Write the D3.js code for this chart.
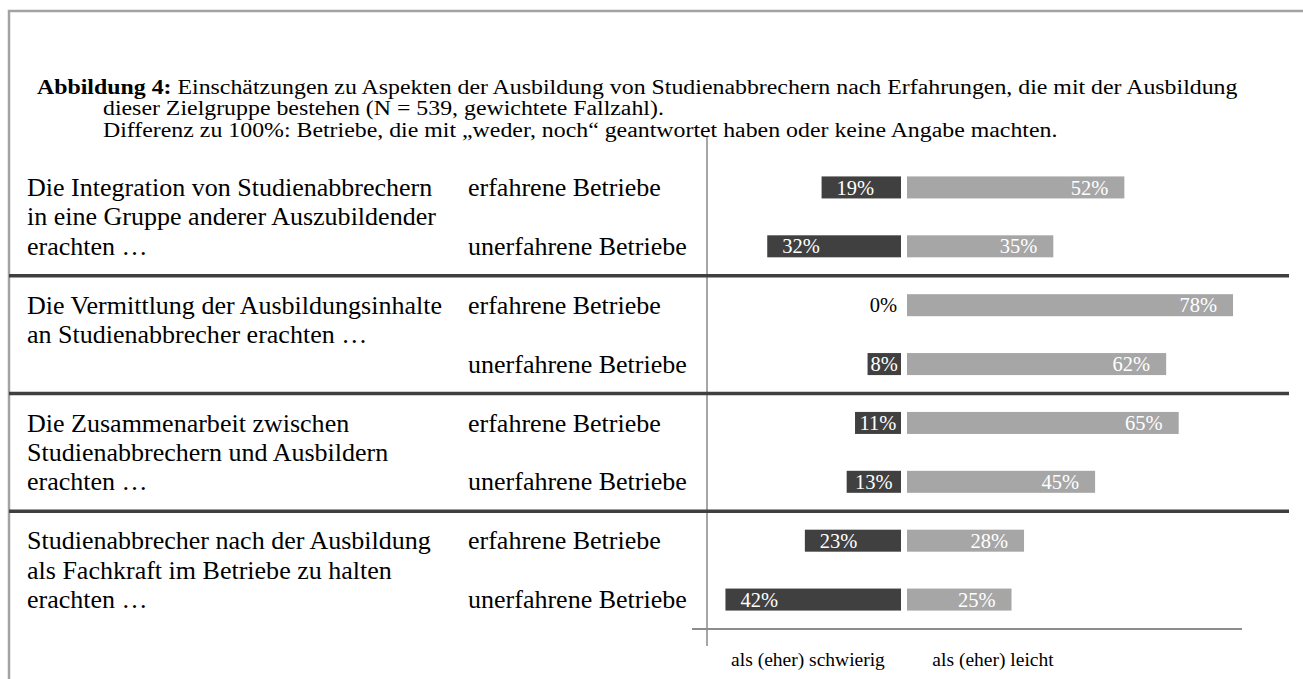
<!DOCTYPE html>
<html>
<head>
<meta charset="utf-8">
<script src="https://cdn.jsdelivr.net/npm/d3@7"></script>
<style>
  html, body { margin: 0; padding: 0; background: #fff; }
  svg { display: block; font-family: "Liberation Serif", serif; }
  text, tspan { font-family: "Liberation Serif", serif; }
</style>
</head>
<body>
<svg id="chart" width="1303" height="679"></svg>
<script>
// ---- data ----
const categories = [
  ["Die Integration von Studienabbrechern", "in eine Gruppe anderer Auszubildender", "erachten …"],
  ["Die Vermittlung der Ausbildungsinhalte", "an Studienabbrecher erachten …"],
  ["Die Zusammenarbeit zwischen", "Studienabbrechern und Ausbildern", "erachten …"],
  ["Studienabbrecher nach der Ausbildung", "als Fachkraft im Betriebe zu halten", "erachten …"]
];
const groups = ["erfahrene Betriebe", "unerfahrene Betriebe"];
const schwierig = [19, 32, 0, 8, 11, 13, 23, 42];
const leicht = [52, 35, 78, 62, 65, 45, 28, 25];
const legendLabels = ["als (eher) schwierig", "als (eher) leicht"];
const titleBold = "Abbildung 4:";
const titleLines = [
  " Einschätzungen zu Aspekten der Ausbildung von Studienabbrechern nach Erfahrungen, die mit der Ausbildung",
  "dieser Zielgruppe bestehen (N = 539, gewichtete Fallzahl).",
  "Differenz zu 100%: Betriebe, die mit „weder, noch“ geantwortet haben oder keine Angabe machten."
];

// ---- layout ----
const FONT = "Liberation Serif, serif";
const svg = d3.select("#chart");
const DARK = "#404040", LIGHT = "#a6a6a6";
const centerL = 901, centerR = 907;
const rows = d3.range(schwierig.length);

const y = d3.scaleBand().domain(rows).range([158, 629]).paddingInner(0.626).paddingOuter(0.313);
const w = d3.scaleLinear().domain([0, 100]).range([0, 418]);

function txt(parent) {
  return parent.append("text").attr("font-family", FONT).attr("fill", "#000");
}

// frame
svg.append("rect").attr("x", 9).attr("y", 11).attr("width", 1310).attr("height", 700)
  .attr("fill", "none").attr("stroke", "#a3a3a3").attr("stroke-width", 2.5);

// title (scaled horizontally to the reference width)
const tFont = 20;
const tg = svg.append("g");
const t1 = txt(tg).attr("x", 0).attr("y", 0).attr("font-size", tFont);
t1.append("tspan").attr("font-weight", "bold").attr("font-family", FONT).text(titleBold);
t1.append("tspan").attr("font-family", FONT).text(titleLines[0]);
const t2 = txt(tg).attr("x", 0).attr("y", 21.5).attr("font-size", tFont).text(titleLines[1]);
const t3 = txt(tg).attr("x", 0).attr("y", 43).attr("font-size", tFont).text(titleLines[2]);
(function(){
  const sx = (1238 - 37) / t1.node().getComputedTextLength();
  const indent = (103 - 37) / sx;
  t2.attr("x", indent); t3.attr("x", indent);
  tg.attr("transform", `translate(37,94) scale(${sx},1)`);
})();

// vertical axis
svg.append("line").attr("x1", 707).attr("x2", 707).attr("y1", 137).attr("y2", 646)
  .attr("stroke", "#a6a6a6").attr("stroke-width", 2);

// bottom axis line
svg.append("line").attr("x1", 692).attr("x2", 1242).attr("y1", y.range()[1]).attr("y2", y.range()[1])
  .attr("stroke", "#8c8c8c").attr("stroke-width", 2);

// separators
[2, 4, 6].forEach(k => {
  const yy = y.range()[0] + k * y.step();
  svg.append("line").attr("x1", 9).attr("x2", 1289).attr("y1", yy).attr("y2", yy)
    .attr("stroke", "#3f3f3f").attr("stroke-width", 3.5);
});

// category labels
const catFont = 24.5;
const lineStep = y.step() / 2;
categories.forEach((lines, i) => {
  const y0 = y(i * 2) + y.bandwidth() / 2;
  lines.forEach((ln, j) => {
    txt(svg).attr("class", "cat").attr("x", 27).attr("y", y0 + j * lineStep)
      .attr("dy", "0.33em").attr("font-size", catFont).text(ln);
  });
});
// group labels
rows.forEach(r => {
  txt(svg).attr("class", "grp").attr("x", 468).attr("y", y(r) + y.bandwidth() / 2)
    .attr("dy", "0.33em").attr("font-size", catFont).text(groups[r % 2]);
});
(function(){
  const n = svg.select("text.grp").node();
  const fs = catFont * 193 / n.getComputedTextLength();
  svg.selectAll("text.cat, text.grp").attr("font-size", fs);
})();

// bars
const valFont = 20.5;
const gS = svg.append("g");
rows.forEach(r => {
  const v = schwierig[r];
  const bw = w(v);
  const cy = y(r) + y.bandwidth() / 2;
  if (v > 0) {
    gS.append("rect").attr("x", centerL - bw).attr("y", y(r)).attr("width", bw).attr("height", y.bandwidth()).attr("fill", DARK);
    const t = txt(gS).attr("y", cy).attr("dy", "0.35em").attr("font-size", valFont).attr("fill", "#fff").text(v + "%");
    const tw = t.node().getComputedTextLength();
    const pad = Math.min(15, Math.max(0, (bw - tw) / 2));
    t.attr("x", centerL - bw + pad);
  } else {
    txt(gS).attr("x", centerL - 4).attr("y", cy).attr("dy", "0.35em").attr("text-anchor", "end")
      .attr("font-size", valFont).text(v + "%");
  }
});
const gL = svg.append("g");
rows.forEach(r => {
  const v = leicht[r];
  const bw = w(v);
  const cy = y(r) + y.bandwidth() / 2;
  gL.append("rect").attr("x", centerR).attr("y", y(r)).attr("width", bw).attr("height", y.bandwidth()).attr("fill", LIGHT);
  txt(gL).attr("x", centerR + bw - 16).attr("y", cy).attr("dy", "0.35em").attr("text-anchor", "end")
    .attr("font-size", valFont).attr("fill", "#fff").text(v + "%");
});

// labels under the bars
const legFont = 19.5;
txt(svg).attr("x", 808).attr("y", 660).attr("dy", "0.33em").attr("text-anchor", "middle")
  .attr("font-size", legFont).text(legendLabels[0]);
txt(svg).attr("x", 993).attr("y", 660).attr("dy", "0.33em").attr("text-anchor", "middle")
  .attr("font-size", legFont).text(legendLabels[1]);
</script>
</body>
</html>
